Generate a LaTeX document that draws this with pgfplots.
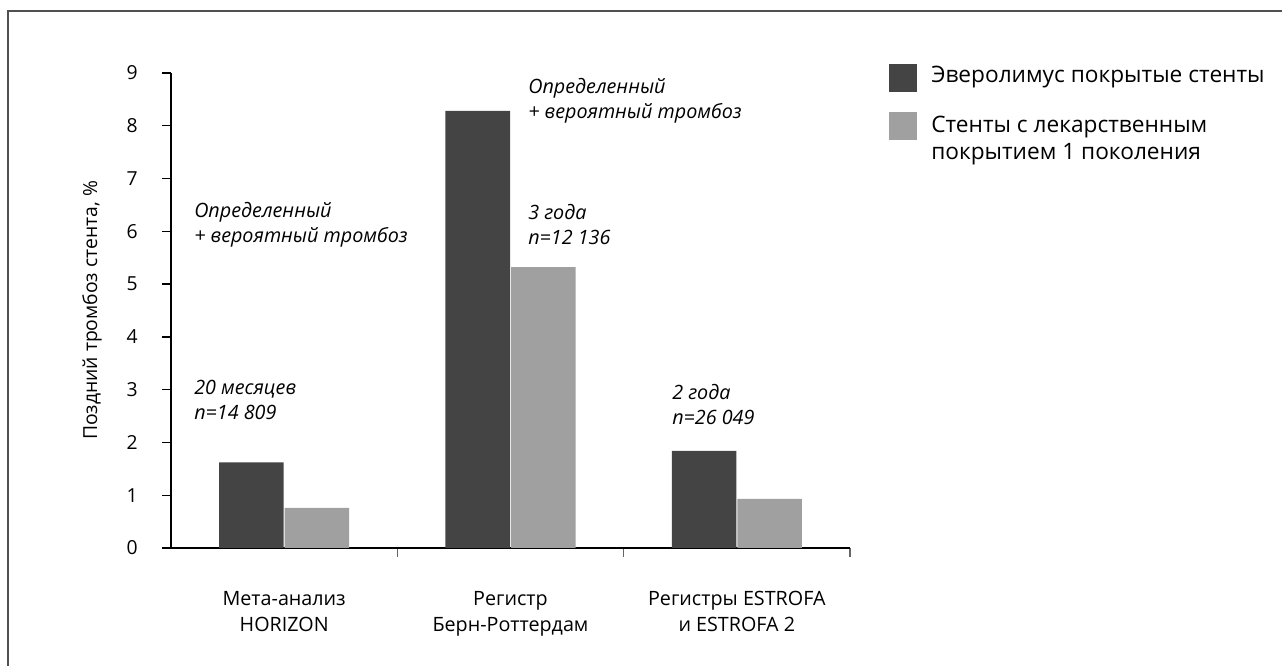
\documentclass[border=0pt]{standalone}
\usepackage{fontspec}
\setmainfont{Open Sans}
\usepackage{pgfplots}
\pgfplotsset{compat=1.18}
\definecolor{darkbar}{HTML}{444444}
\definecolor{lightbar}{HTML}{A0A0A0}
\definecolor{framec}{HTML}{505050}
\begin{document}
\begin{tikzpicture}[x=0.75pt,y=0.75pt]
\useasboundingbox (0,0) rectangle (1282,666);
\draw[line width=1.5pt,framec] (8,0) -- (8,655) -- (1282,655);
\coordinate (O) at (171,118);
\begin{axis}[
  at={(O)}, anchor=south west,
  scale only axis, width=509.25pt, height=356.25pt,
  xmin=0, xmax=3, ymin=0, ymax=9,
  axis x line=bottom, axis y line=left,
  axis line style={-, line width=1.6pt, black},
  ybar=0.75pt, bar width=0.285,
  ytick={0,1,...,9},
  tick align=outside,
  major tick length=6.5pt,
  ytick style={black, line width=1pt},
  xtick={1,2,3}, xticklabels={},
  xtick style={black!60, line width=0.8pt},
  extra x ticks={0.5,1.5,2.5},
  extra x tick labels={Мета-анализ\\HORIZON, Регистр\\Берн-Роттердам, Регистры ESTROFA\\и ESTROFA 2},
  extra x tick style={major tick length=0pt, xticklabel style={yshift=-29pt}},
  x tick label style={align=center, font=\fontsize{14.8pt}{19.5pt}\selectfont},
  y tick label style={font=\fontsize{14.5pt}{18pt}\selectfont, xshift=-15pt},
  /pgf/number format/assume math mode=true,
  ylabel={Поздний тромбоз стента, \%},
  ylabel style={at={(axis description cs:-0.1163,0.5)}, anchor=center, font=\fontsize{14.5pt}{16pt}\selectfont},
  enlargelimits=false, clip=false
]
\addplot[fill=darkbar, draw=none] coordinates {(0.5,1.62) (1.5,8.28) (2.5,1.84)};
\addplot[fill=lightbar, draw=none] coordinates {(0.5,0.76) (1.5,5.32) (2.5,0.93)};
\end{axis}
\tikzset{ann/.style={anchor=base west, inner sep=0pt, font=\itshape\fontsize{14.8pt}{17pt}\selectfont},
         leg/.style={anchor=base west, inner sep=0pt, font=\fontsize{17pt}{20pt}\selectfont}}
\node[ann] at (194,448) {Определенный};
\node[ann] at (194,423) {+ вероятный тромбоз};
\node[ann] at (194,271) {20 месяцев};
\node[ann] at (194,246) {n=14 809};
\node[ann] at (528,572) {Определенный};
\node[ann] at (528,547) {+ вероятный тромбоз};
\node[ann] at (528,446) {3 года};
\node[ann] at (528,421) {n=12 136};
\node[ann] at (672,266) {2 года};
\node[ann] at (672,241) {n=26 049};
\fill[darkbar] (889,574) rectangle (917,602);
\fill[lightbar] (889,526) rectangle (917,554);
\node[leg] at (931,583) {Эверолимус покрытые стенты};
\node[leg] at (931,533) {Стенты с лекарственным};
\node[leg] at (931,506) {покрытием 1 поколения};
\end{tikzpicture}
\end{document}
